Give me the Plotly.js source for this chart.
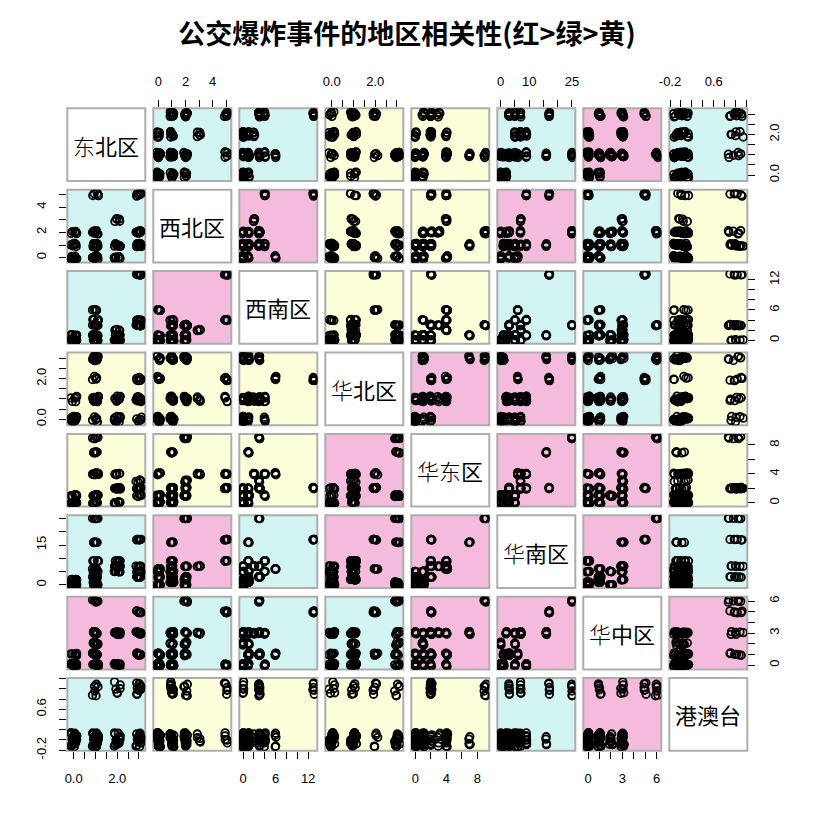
<!DOCTYPE html>
<html>
<head>
<meta charset="utf-8">
<script src="https://cdn.plot.ly/plotly-3.0.1.min.js"></script>
<style>html,body{margin:0;padding:0;background:#fff;}#chart{width:828px;height:824px;}</style>
</head>
<body>
<div id="chart"></div>
<script>
// ---------------- data ----------------
const regions = ["东北区","西北区","西南区","华北区","华东区","华南区","华中区","港澳台"];
// distinct observation patterns (counts per region) and how many times each occurs
const dongbei   = [1,3,1,1,1,2,3,2,3,3,3,2,2,1,1,1,0,0,0,1,1,1];
const xibei     = [2,5,1,5,0,3,1,1,2,1,2,1,0,0,1,2,2,1,0,0,1,1];
const xinan     = [3,13,1,4,6,2,3,0,3,4,3,1,0,0,1,0,1,0,0,1,1,0];
const huabei    = [3,2,3,1,2,1,1,0,1,0,1,1,0,3,3,3,1,0,0,0,1,1];
const huadong   = [9,2,7,4,4,4,2,2,3,1,2,2,0,1,1,1,1,0,0,0,1,0];
const huanan    = [25,17,16,9,6,7,3,7,7,5,3,9,5,0,1,0,2,1,0,3,5,2];
const huazhong  = [6,5,3,0,1,3,1,3,3,3,1,0,0,0,1,2,1,0,0,1,2,3];
const gangaotai = [1,1,0,0,0,0,1,1,0,0,0,0,0,0,0,0,0,0,0,0,0,0];
const repeats   = [6,6,5,5,5,5,6,6,5,5,5,5,6,6,5,5,6,7,14,6,5,5];

// correlation class of each pair (P = red/strong, G = green, Y = yellow/weak)
const corrClass = [
  ["D","G","G","Y","Y","G","P","G"],
  ["G","D","P","Y","Y","P","G","Y"],
  ["G","P","D","Y","Y","G","G","Y"],
  ["Y","Y","Y","D","P","P","G","Y"],
  ["Y","Y","Y","P","D","P","P","Y"],
  ["G","P","G","P","P","D","P","G"],
  ["P","G","G","G","P","P","D","P"],
  ["G","Y","Y","Y","Y","G","P","D"]
];

// tick values and labels per variable
const tickVals = [
  [0,0.5,1,1.5,2,2.5,3],
  [0,1,2,3,4,5],
  [0,2,4,6,8,10,12],
  [0,0.5,1,1.5,2,2.5,3],
  [0,2,4,6,8],
  [0,5,10,15,20,25],
  [0,1,2,3,4,5,6],
  [-0.2,0,0.2,0.4,0.6,0.8,1.0,1.2]
];
const tickTextX = [
  ["0.0","","","","2.0","",""],
  ["0","","2","","4",""],
  ["0","","","6","","","12"],
  ["0.0","","","","2.0","",""],
  ["0","","4","","8"],
  ["0","","10","","","25"],
  ["0","","","3","","","6"],
  ["-0.2","","","","0.6","","",""]
];
const tickTextY = [
  ["0.0","","","","2.0","",""],
  ["0","","2","","4",""],
  ["0","","","6","","","12"],
  ["0.0","","","","2.0","",""],
  ["0","","4","","8"],
  ["0","","","15","",""],
  ["0","","","3","","","6"],
  ["-0.2","","","","0.6","","",""]
];

// ---------------- rendering ----------------
const vars = [dongbei, xibei, xinan, huabei, huadong, huanan, huazhong, gangaotai];
const N = 8;
// emulation of R's jitter(): fixed table of unit offsets
const JIT = [0.83,-0.41,0.12,-0.95,0.57,-0.18,0.94,-0.66,0.31,-0.02,0.72,-0.87,0.45,-0.29,0.05,-0.74,0.66,-0.53,0.21,0.99,-0.12,0.38,-0.6];
const AMT = 0.14;

const obsRow = [];
repeats.forEach((c, r) => { for (let k = 0; k < c; k++) obsRow.push(r); });
const jv = vars.map((v, d) => obsRow.map((r, n) => v[r] + AMT * JIT[(n * 5 + d * 11 + 3) % JIT.length]));

const W = 828, H = 824;
const left0 = 67.3, colPitch = 86, panelW = 78;
const top0 = 108.3, rowPitch = 81.4, panelH = 72.7;
const xDom = j => [(left0 + colPitch * j) / W, (left0 + colPitch * j + panelW) / W];
const yDom = i => [1 - (top0 + rowPitch * i + panelH) / H, 1 - (top0 + rowPitch * i) / H];

const fills = {P: "#F4BBDD", G: "#D2F4F2", Y: "#FDFFDA", D: "#FFFFFF"};
const axName = (p, k) => p + (k === 0 ? "" : (k + 1));
const layName = (p, k) => p + "axis" + (k === 0 ? "" : (k + 1));

const traces = [];
for (let i = 0; i < N; i++) {
  for (let j = 0; j < N; j++) {
    if (i === j) continue;
    traces.push({
      type: "scatter", mode: "markers",
      x: jv[j], y: jv[i],
      xaxis: axName("x", j), yaxis: axName("y", i),
      marker: {symbol: "circle-open", size: 7.5, color: "#000", line: {width: 1.8, color: "#000"}},
      hoverinfo: "skip", showlegend: false
    });
  }
}

const tickFont = {family: "Liberation Sans, Arial, sans-serif", size: 13, color: "#000"};
const layout = {
  width: W, height: H,
  margin: {l: 0, r: 0, t: 0, b: 0},
  paper_bgcolor: "#fff", plot_bgcolor: "rgba(0,0,0,0)",
  showlegend: false, hovermode: false,
  title: {
    text: "公交爆炸事件的地区相关性(红>绿>黄)",
    x: 407 / W, xanchor: "center", xref: "paper",
    y: 1 - 35 / H, yanchor: "middle", yref: "container",
    font: {family: "Noto Sans CJK SC, sans-serif", size: 27, color: "#000", weight: "bold"}
  },
  shapes: [], annotations: []
};

for (let k = 0; k < N; k++) {
  const v = vars[k];
  const lo = Math.min(...v) - 0.16, hi = Math.max(...v) + 0.16;
  const pad = (hi - lo) * 0.04;
  const rng = [lo - pad, hi + pad];
  const evenPos = (k % 2 === 1);
  layout[layName("x", k)] = {
    domain: xDom(k), range: rng,
    side: evenPos ? "top" : "bottom", anchor: evenPos ? "y" : "y8",
    tickmode: "array", tickvals: tickVals[k], ticktext: tickTextX[k],
    ticks: "outside", ticklen: 7, tickwidth: 1, tickcolor: "#000",
    tickfont: tickFont, ticklabelstandoff: 9,
    showgrid: false, zeroline: false, showline: false, fixedrange: true
  };
  layout[layName("y", k)] = {
    domain: yDom(k), range: rng,
    side: evenPos ? "left" : "right", anchor: evenPos ? "x" : "x8",
    tickmode: "array", tickvals: tickVals[k], ticktext: tickTextY[k],
    ticks: "outside", ticklen: 7, tickwidth: 1, tickcolor: "#000",
    tickfont: tickFont, tickangle: -90, ticklabelstandoff: 8,
    showgrid: false, zeroline: false, showline: false, fixedrange: true
  };
}

for (let i = 0; i < N; i++) {
  for (let j = 0; j < N; j++) {
    const xd = xDom(j), yd = yDom(i);
    layout.shapes.push({
      type: "rect", xref: "paper", yref: "paper",
      x0: xd[0], x1: xd[1], y0: yd[0], y1: yd[1],
      fillcolor: fills[corrClass[i][j]],
      line: {color: "#ADADAD", width: 2}, layer: "below"
    });
  }
}

const thin = ch => '<span style="font-weight:300">' + ch + '</span>';
const diagText = regions.map(r => r.split("").map(c => (c === "东" || c === "华") ? thin(c) : c).join(""));
for (let k = 0; k < N; k++) {
  const xd = xDom(k), yd = yDom(k);
  layout.annotations.push({
    xref: "paper", yref: "paper",
    x: (xd[0] + xd[1]) / 2, y: (yd[0] + yd[1]) / 2,
    xanchor: "center", yanchor: "middle", showarrow: false,
    text: diagText[k],
    font: {family: "Noto Sans CJK SC, sans-serif", size: 22, color: "#000"}
  });
}

Plotly.newPlot("chart", traces, layout, {staticPlot: true, displayModeBar: false});
</script>
</body>
</html>
